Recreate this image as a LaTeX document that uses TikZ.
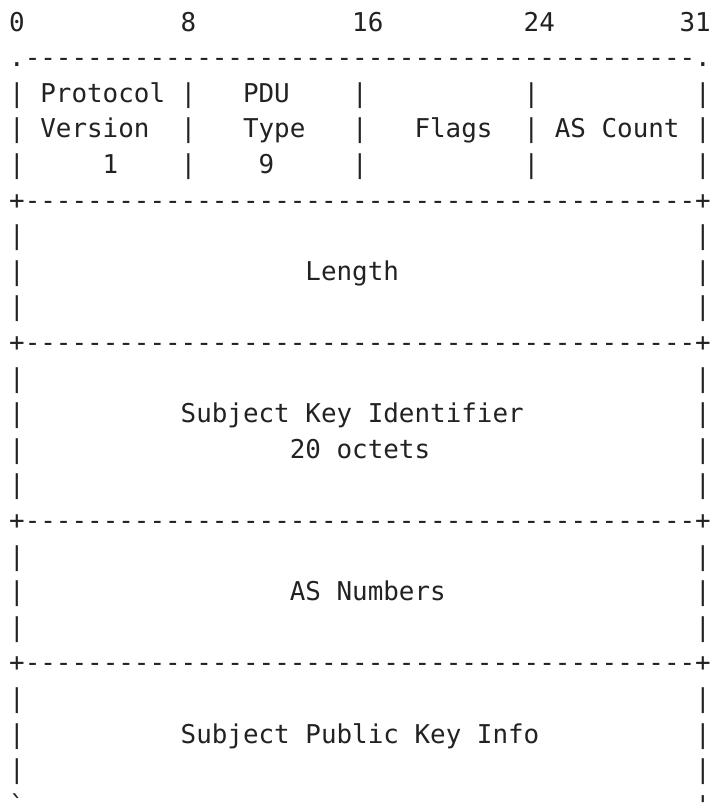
\documentclass[tikz,border=0pt]{standalone}
\usepackage{fontspec}
\newfontfamily\ascfont{DejaVu Sans Mono}
\definecolor{ink}{HTML}{222222}
\newcommand\dashrow{\foreach \i in {1,...,43}{-\kern0pt}}
\newcommand\putc[4]{\node[asc] (#1) at ({9.2+15.59*#2},{31+35.6*#3}) {#4};}
\begin{document}
\begin{tikzpicture}[x=1pt,y=-1pt,
  asc/.style={font=\ascfont\fontsize{25.9pt}{35.6pt}\selectfont, text=ink,
    anchor=base west, inner sep=0pt, outer sep=0pt}]
\fill[white] (0,0) rectangle (712,806);
\useasboundingbox (0,0) rectangle (712,806);
% bit ruler
\putc{h0}{0}{0}{0}
\putc{h8}{11}{0}{8}
\putc{h16}{22}{0}{16}
\putc{h24}{33}{0}{24}
\putc{h31}{43}{0}{31}
% frame lines
\putc{top}{0}{1}{.\dashrow.}
\putc{sepa}{0}{5}{+\dashrow+}
\putc{sepb}{0}{9}{+\dashrow+}
\putc{sepc}{0}{14}{+\dashrow+}
\putc{sepd}{0}{18}{+\dashrow+}
\foreach \r in {2,3,4}
  \foreach \c in {0,11,22,33,44} {\putc{p-\r-\c}{\c}{\r}{|}}
\foreach \r in {6,7,8,10,11,12,13,15,16,17,19,20,21}
  \foreach \c in {0,44} {\putc{p-\r-\c}{\c}{\r}{|}}
\putc{bl}{0}{22}{\char"60}
\putc{br}{44}{22}{\char"27}
% field labels
\putc{protocol}{2}{2}{Protocol}
\putc{pdu}{15}{2}{PDU}
\putc{version}{2}{3}{Version}
\putc{type}{15}{3}{Type}
\putc{flags}{26}{3}{Flags}
\putc{ascount}{35}{3}{AS Count}
\putc{one}{6}{4}{1}
\putc{nine}{16}{4}{9}
\putc{length}{19}{7}{Length}
\putc{ski}{11}{11}{Subject Key Identifier}
\putc{octets}{18}{12}{20 octets}
\putc{asn}{18}{16}{AS Numbers}
\putc{spki}{11}{20}{Subject Public Key Info}
\end{tikzpicture}
\end{document}
